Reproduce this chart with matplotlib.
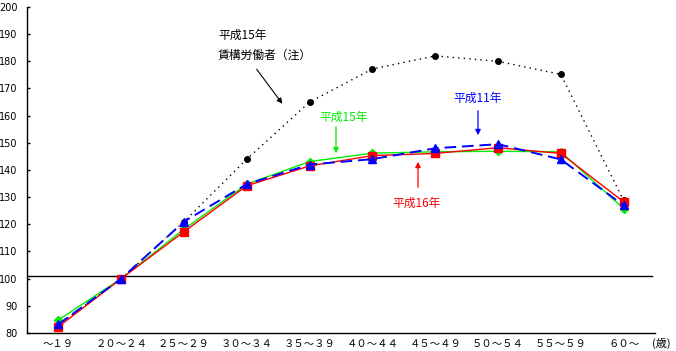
import matplotlib
matplotlib.use("Agg")
import matplotlib.pyplot as plt

plt.rcParams['font.family'] = ['Noto Sans CJK JP', 'DejaVu Sans']

categories = ["～１９", "２０～２４", "２５～２９", "３０～３４", "３５～３９",
              "４０～４４", "４５～４９", "５０～５４", "５５～５９", "６０～"]
h15_all = [83, 100, 121, 144, 165, 177.2, 182, 180, 175.2, 128.8]
h11 = [83.2, 100, 121, 134.8, 142, 144, 148, 149.5, 143.9, 127]
h16 = [82.3, 100, 117.3, 134.2, 141.5, 145.3, 146.1, 148.2, 146.1, 128.3]
h15 = [84.8, 100, 118.2, 134.8, 143.1, 146.2, 146.7, 146.9, 146.7, 125.8]
yticks = list(range(80, 201, 10))

W, H = 676, 351
fig = plt.figure(figsize=(W / 100, H / 100), dpi=100)
ax = fig.add_axes([27 / W, 1 - 333 / H, (655 - 27) / W, (333 - 7) / H])

x = list(range(len(categories)))
ax.plot(x, h15_all, color='black', linestyle=(0, (1, 3)), linewidth=1.0,
        marker='o', markersize=4, zorder=3)
ax.plot(x, h15, color='#00ee00', linestyle='-', linewidth=1.0,
        marker='D', markersize=4, zorder=4)
ax.plot(x, h16, color='#ff0000', linestyle='-', linewidth=1.0,
        marker='s', markersize=6, zorder=5)
ax.plot(x, h11, color='#0000ff', linestyle=(0, (6, 3)), linewidth=1.4,
        marker='^', markersize=5.5, zorder=6)

ax.axhline(101, xmin=0, xmax=(652 - 27) / (655 - 27), color='black', linewidth=1.0, zorder=2)

ax.set_xlim(-0.5, 9.5)
ax.set_ylim(80, 200)
ax.set_yticks(yticks)
ax.set_xticks(x)
ax.set_xticklabels(categories, fontsize=7.5)
ax.tick_params(axis='x', length=0, pad=4)
ax.tick_params(axis='y', direction='in', length=2, width=1, pad=7, labelsize=7)
for lab in ax.get_yticklabels():
    lab.set_family('DejaVu Sans')
ax.spines['top'].set_visible(False)
ax.spines['right'].set_visible(False)
ax.spines['left'].set_linewidth(1.0)
ax.spines['bottom'].set_linewidth(1.0)

fig.text(661 / W, 1 - 343 / H, "(歳)", fontsize=8, ha='center', va='center')

def px(xp, yp):
    return (xp / W, 1 - yp / H)

# annotations (figure pixel coordinates)
fig.text(*px(218, 35), "平成15年", fontsize=8.5, ha='left', va='center')
fig.text(*px(218, 55), "賃構労働者（注）", fontsize=8.5, ha='left', va='center')
ax.annotate("", xy=px(284, 106), xycoords='figure fraction',
            xytext=px(255, 67), textcoords='figure fraction',
            arrowprops=dict(arrowstyle='-|>', color='black', lw=0.8, mutation_scale=8))

fig.text(*px(344, 117), "平成15年", fontsize=8.5, ha='center', va='center', color='#00ee00')
ax.annotate("", xy=px(336, 156), xycoords='figure fraction',
            xytext=px(336, 124), textcoords='figure fraction',
            arrowprops=dict(arrowstyle='-|>', color='#00ee00', lw=0.9, mutation_scale=8))

fig.text(*px(478, 98), "平成11年", fontsize=8.5, ha='center', va='center', color='#0000ff')
ax.annotate("", xy=px(478, 138), xycoords='figure fraction',
            xytext=px(478, 108), textcoords='figure fraction',
            arrowprops=dict(arrowstyle='-|>', color='#0000ff', lw=0.9, mutation_scale=8))

fig.text(*px(417, 203), "平成16年", fontsize=8.5, ha='center', va='center', color='#ff0000')
ax.annotate("", xy=px(418, 159), xycoords='figure fraction',
            xytext=px(418, 190), textcoords='figure fraction',
            arrowprops=dict(arrowstyle='-|>', color='#ff0000', lw=0.9, mutation_scale=8))

fig.savefig("out.png", dpi=100)
